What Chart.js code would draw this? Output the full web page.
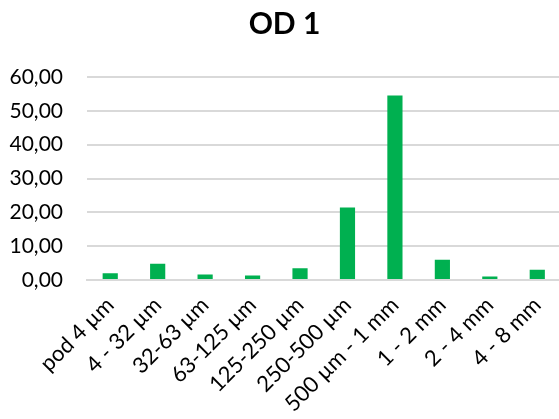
<!DOCTYPE html>
<html>
<head>
<meta charset="utf-8">
<script src="https://cdn.jsdelivr.net/npm/chart.js@4"></script>
<style>
  html, body { margin: 0; padding: 0; background: #fff; overflow: hidden; }
  #wrap { width: 561px; height: 419px; }
</style>
</head>
<body>
<div id="wrap"><canvas id="chart"></canvas></div>
<script>
const categories = [
  "pod 4 µm", "4 - 32 µm", "32-63 µm", "63-125 µm", "125-250 µm",
  "250-500 µm", "500 µm - 1 mm", "1 - 2 mm", "2 - 4 mm", "4 - 8 mm"
];
const values = [2.0, 4.8, 1.6, 1.3, 3.5, 21.4, 54.5, 6.0, 1.0, 3.0];
const yTicks = [0, 10, 20, 30, 40, 50, 60];

const green = "#00B050";
const gridColor = "#d9d9d9";
const font = "Lato, 'Open Sans', sans-serif";

const ctx = document.getElementById("chart");
const chart = new Chart(ctx, {
  type: "bar",
  data: {
    labels: categories,
    datasets: [
      {
        label: "OD 1",
        data: values,
        backgroundColor: green,
        borderWidth: 0,
        categoryPercentage: 1,
        barPercentage: 0.32,
      },
    ],
  },
  options: {
    responsive: true,
    maintainAspectRatio: false,
    animation: false,
    layout: { padding: { left: 8, right: 0, top: 0, bottom: 0 } },
    plugins: {
      legend: { display: false },
      tooltip: { enabled: false },
      title: {
        display: true,
        text: "OD 1",
        color: "#000",
        font: { family: font, size: 30, weight: "bold" },
        padding: { top: 6, bottom: 35 },
      },
    },
    scales: {
      y: {
        min: yTicks[0],
        max: yTicks[yTicks.length - 1],
        afterBuildTicks: (scale) => {
          scale.ticks = yTicks.map((v) => ({ value: v }));
        },
        afterFit: (scale) => {
          scale.width = 78.5;
        },
        border: { display: false },
        grid: { color: gridColor, lineWidth: 2, drawTicks: false },
        ticks: {
          color: "#000",
          padding: 23.5,
          font: { family: font, size: 21 },
          callback: (v) => v.toFixed(2).replace(".", ","),
        },
      },
      x: {
        afterFit: (scale) => {
          scale.height = 139;
          scale.paddingLeft = 0;
          scale.paddingRight = 0;
        },
        border: { color: gridColor, width: 2 },
        grid: { display: false },
        ticks: {
          color: "#000",
          padding: 4,
          minRotation: 45,
          maxRotation: 45,
          autoSkip: false,
          font: { family: font, size: 22 },
        },
      },
    },
  },
});
</script>
</body>
</html>
